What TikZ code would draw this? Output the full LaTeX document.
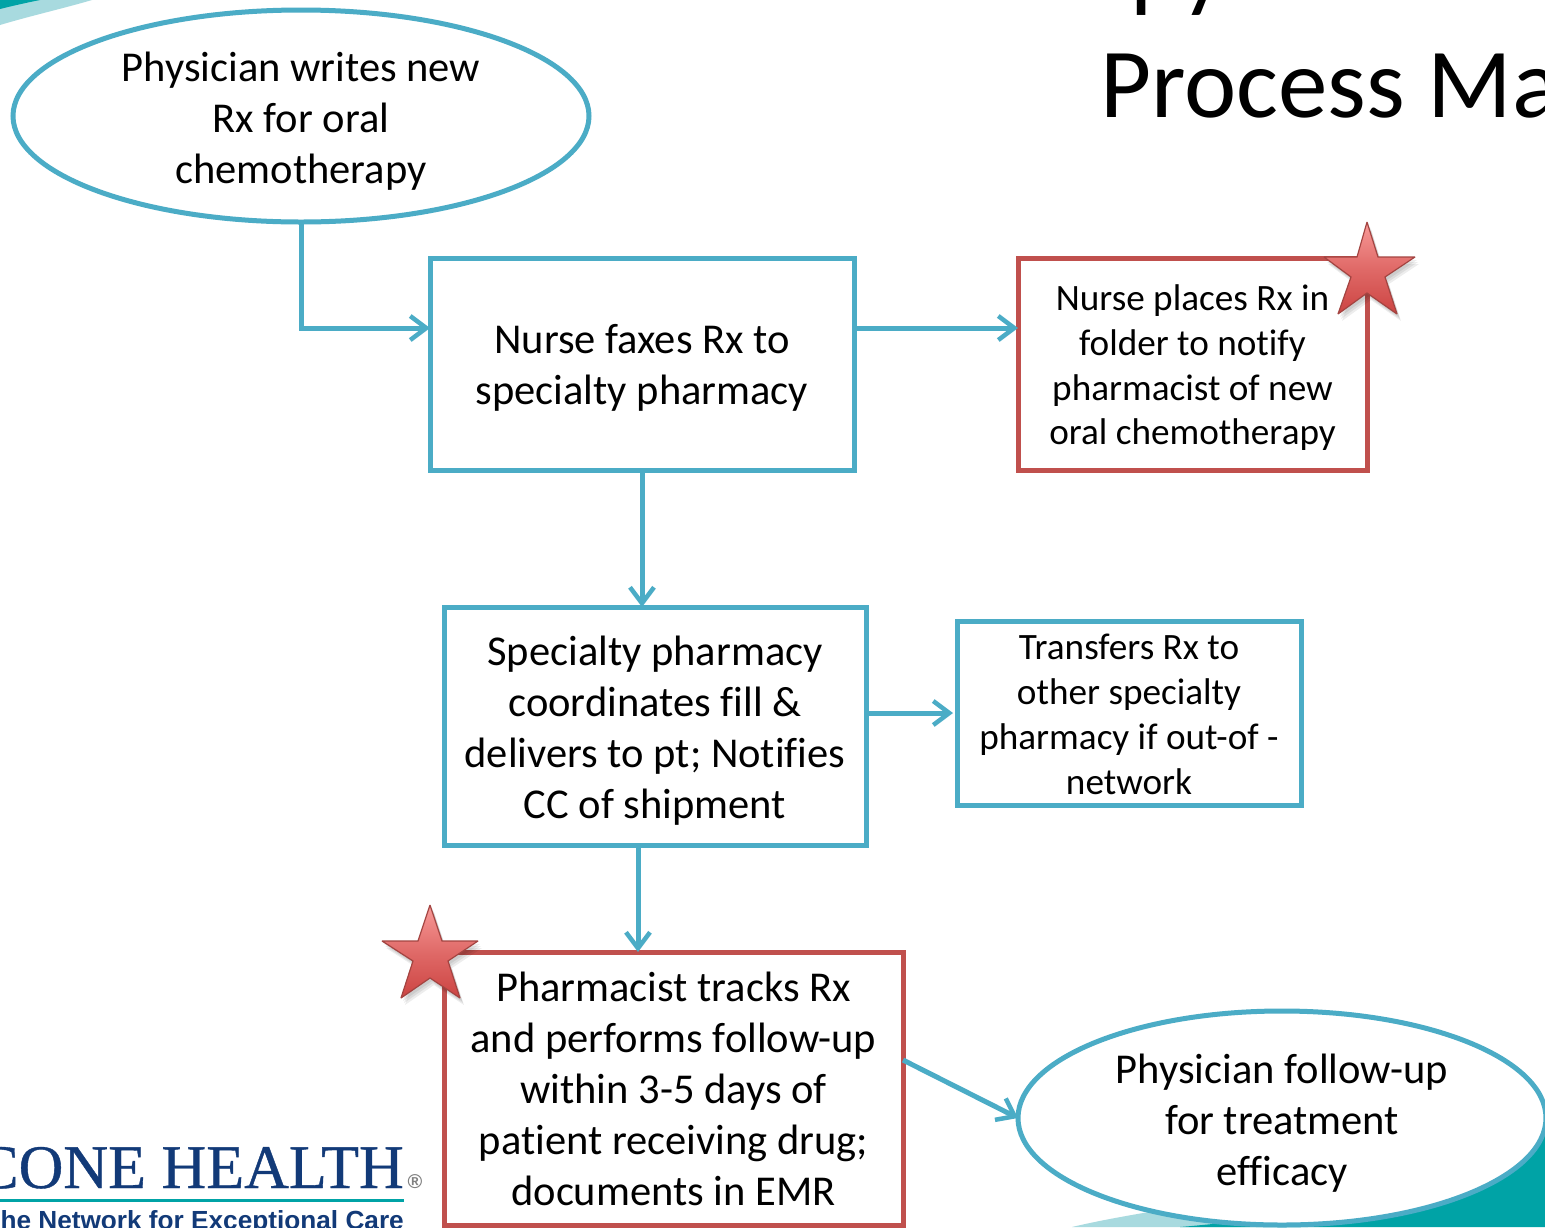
\documentclass[tikz,border=0pt]{standalone}
\usepackage{fontspec}
\setmainfont{Carlito}[Ligatures=NoCommon]
\newfontfamily\logoserif{Liberation Serif}[FakeBold=0.6]
\newfontfamily\logosans{Liberation Sans}
\usetikzlibrary{arrows.meta,shapes.geometric}
\definecolor{flowblue}{HTML}{4BACC6}
\definecolor{flowred}{HTML}{C0504D}
\definecolor{bgteal}{HTML}{00A3A6}
\definecolor{bglight}{HTML}{A8DADF}
\definecolor{logoblue}{HTML}{123A78}
\definecolor{startop}{HTML}{F89A98}
\definecolor{starmid}{HTML}{E06A68}
\definecolor{starbot}{HTML}{CC4442}
\newcommand{\textlines}[2]{\raisebox{-#1}[\height][\depth]{\begin{tabular}{@{}c@{}}#2\end{tabular}}}
\tikzset{
  x=1pt,y=-1pt,
  big/.style={font=\fontsize{42.5}{51}\selectfont},
  small/.style={font=\fontsize{37.2}{44.7}\selectfont},
  bluebox/.style={draw=flowblue,line width=5pt,rectangle,fill=white,inner sep=0pt,outer sep=0pt},
  redbox/.style={draw=flowred,line width=5pt,rectangle,fill=white,inner sep=0pt,outer sep=0pt},
  oval/.style={draw=flowblue,line width=5pt,ellipse,fill=white,inner sep=-30pt,outer sep=0pt},
  flow/.style={draw=flowblue,line width=5pt,-{Straight Barb[length=16pt,width=24pt,line width=4.5pt]}},
  starface/.style={draw=flowred!85!black,line width=1.2pt,miter limit=3,top color=startop,bottom color=starbot,middle color=starmid},
  starshadow/.style={fill=black,fill opacity=0.07,draw=none}
}
\begin{document}
\begin{tikzpicture}
\useasboundingbox (0,0) rectangle (1545,1227);
\begin{scope}
\clip (0,0) rectangle (1545,1227);
\fill[white] (0,0) rectangle (1545,1227);
% slide background
\fill[bglight] (0,25) .. controls (30,16) and (65,8) .. (92,0) -- (0,0) -- cycle;
\fill[bgteal] (0,9) .. controls (12,6) and (25,3) .. (40,0) -- (0,0) -- cycle;
\fill[bglight] (1072,1227) .. controls (1110,1218) and (1150,1212) .. (1190,1205) -- (1300,1227) -- cycle;
\fill[bgteal] (1180,1227) .. controls (1320,1215) and (1470,1190) .. (1545,1135) -- (1545,1227) -- cycle;
% title
\node[anchor=base west,inner sep=0pt,font=\fontsize{99}{119}\selectfont] (title1) at (1130,-1) {py};
\node[anchor=base west,inner sep=0pt,font=\fontsize{99}{119}\selectfont] (title2) at (1100,117) {Process Map};
% logo
\node[anchor=base east,inner sep=0pt,text=logoblue,font=\logoserif\fontsize{62}{62}\selectfont] (logo1) at (404,1188) {CONE HEALTH};
\node[anchor=center,inner sep=0pt,text=gray,font=\logosans\bfseries\fontsize{20}{20}\selectfont] (logoreg) at (415,1182) {®};
\coordinate (logoa) at (0,1200);
\coordinate (logob) at (404,1200);
\draw[bgteal,line width=3pt] (logoa) -- (logob);
\node[anchor=base east,inner sep=0pt,text=logoblue,font=\logosans\bfseries\fontsize{26.2}{27}\selectfont] (logo2) at (404,1229) {The Network for Exceptional Care};
% nodes
\node[oval,big,minimum width=576pt,minimum height=212pt] (start) at (301,116) {\textlines{6.5pt}{Physician writes new\\Rx for oral\\chemotherapy}};
\node[bluebox,big,minimum width=424pt,minimum height=212pt] (fax) at (642,364) {\textlines{5pt}{Nurse faxes Rx to\\specialty pharmacy}};
\node[redbox,small,minimum width=349pt,minimum height=212pt] (folder) at (1192.5,364) {\textlines{5pt}{Nurse places Rx in\\folder to notify\\pharmacist of new\\oral chemotherapy}};
\node[bluebox,big,minimum width=422pt,minimum height=238pt] (fill) at (655,726) {\textlines{5.5pt}{Specialty pharmacy\\coordinates fill \&\\delivers to pt; Notifies\\CC of shipment}};
\node[bluebox,small,minimum width=344pt,minimum height=184pt] (transfer) at (1129,713) {\textlines{5pt}{Transfers Rx to\\other specialty\\pharmacy if out-of -\\network}};
\node[redbox,big,minimum width=459pt,minimum height=273pt] (track) at (673.5,1088.5) {\textlines{5pt}{Pharmacist tracks Rx\\and performs follow-up\\within 3-5 days of\\patient receiving drug;\\documents in EMR}};
\node[oval,big,minimum width=528pt,minimum height=214pt] (followup) at (1282,1118) {\textlines{6pt}{Physician follow-up\\for treatment\\efficacy}};
% connectors
\coordinate (elbow) at (301,328);
\coordinate (fillout) at (866,713);
\coordinate (fillin) at (953,713);
\coordinate (fillbase) at (638,845);
\coordinate (trackout) at (903,1060);
\draw[flow] (start.south) -- (elbow) -- (fax.west|-elbow);
\draw[flow] (fax.east|-elbow) -- (folder.west|-elbow);
\draw[flow] (fax.south) -- (fax.south|-fill.north);
\draw[flow] (fillout) -- (fillin);
\draw[flow] (fillbase) -- (fillbase|-track.north);
\draw[flow] (trackout) -- (followup.west);
% stars
\foreach \dx/\dy in {2/3,3/5,4/7}{
\fill[starshadow,shift={(\dx,\dy)}] (1367,222) -- (1378,257) -- (1415,257) -- (1385,277) -- (1397,314) -- (1367,293) -- (1338,314) -- (1351,277) -- (1324,257) -- (1357,257) -- cycle;
\fill[starshadow,shift={(\dx,\dy)}] (430,905) -- (442,941) -- (478,941) -- (448,961) -- (460,998) -- (430,978) -- (401,998) -- (413,961) -- (382,941) -- (418,941) -- cycle;
}
\path[starface] (1367,222) -- (1378,257) -- (1415,257) -- (1385,277) -- (1397,314) -- (1367,293) -- (1338,314) -- (1351,277) -- (1324,257) -- (1357,257) -- cycle;
\path[starface] (430,905) -- (442,941) -- (478,941) -- (448,961) -- (460,998) -- (430,978) -- (401,998) -- (413,961) -- (382,941) -- (418,941) -- cycle;
\end{scope}
\end{tikzpicture}
\end{document}
